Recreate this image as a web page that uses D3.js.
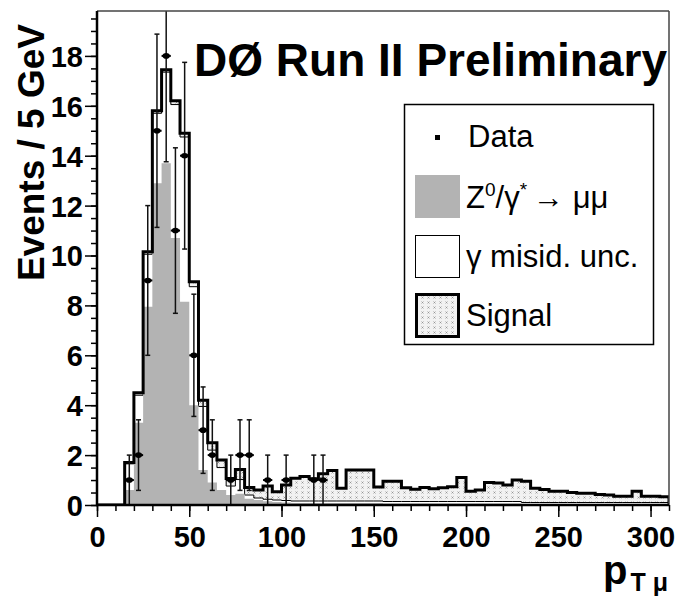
<!DOCTYPE html>
<html>
<head>
<meta charset="utf-8">
<script src="https://cdn.jsdelivr.net/npm/d3@7"></script>
<style>
  body { margin: 0; background: #fff; }
  svg { display: block; }
  text { font-family: "Liberation Sans", Arial, Helvetica, sans-serif; }
</style>
</head>
<body>
<svg id="chart" width="675" height="598"></svg>
<script>
// Muon pT spectrum, 5 GeV bins from 0 to 310 GeV
const binLow = d3.range(0, 310, 5);

// Z0/gamma* -> mu mu background (grey)
const zmumu = [0,0,0,0.6,3.3,7.95,12.9,13.7,10.7,8.15,4.0,1.4,0.9,0.6,0.4,0.45,0.25,0.2,0.15,0.12,
  0.1,0.08,0.08,0.08,0.08,0.08,0.08,0.08,0.08,0.08,0.08,0.06,0.06,0.06,0.06,0.06,0.06,0.06,0.06,0.06,
  0.06,0.06,0.06,0.06,0.06,0.06,0.04,0.04,0.04,0.04,0.04,0.04,0.04,0.04,0.04,0.04,0.04,0.04,0.04,0.04,0.04,0.04];
// photon misidentification uncertainty (white, stacked on Z)
const misid = [0,0,0,1.05,1.1,2.1,2.8,3.65,5.35,6.6,4.75,2.55,1.3,0.9,0.36,0.57,0.15,0.08,0.08,0.08,
  0.08,0.08,0.08,0.08,0.08,0.08,0.08,0.08,0.08,0.08,0.08,0.08,0.08,0.08,0.08,0.08,0.08,0.08,0.08,0.08,
  0.08,0.08,0.08,0.08,0.08,0.08,0.06,0.06,0.06,0.06,0.06,0.06,0.06,0.06,0.06,0.06,0.06,0.06,0.06,0.06,0.06,0.06];
// signal (patterned, stacked on top)
const signal = [0,0,0,0.05,0.1,0.1,0.1,0.1,0.15,0.15,0.2,0.25,0.3,0.3,0.3,0.4,0.3,0.32,0.53,0.33,
  0.62,0.91,0.98,0.89,1.09,1.22,0.51,1.24,1.24,1.24,0.56,0.81,0.81,0.55,0.49,0.56,0.51,0.55,0.59,0.96,
  0.41,0.46,0.76,0.74,0.66,0.86,0.85,0.57,0.52,0.45,0.45,0.4,0.37,0.37,0.32,0.3,0.25,0.25,0.45,0.25,0.25,0.23];

// data: bin lower edge and number of events
const dataBin = [15,20,25,30,35,40,45,50,55,60,70,75,80,90,100,115,120];
const dataVal = [1,2,9,15,18,11,14,6,3,2,1,2,2,1,1,1,1];

const xTickValues = [0,50,100,150,200,250,300];
const yTickValues = [0,2,4,6,8,10,12,14,16,18];

const svg = d3.select("#chart");
const fr = { left: 97, right: 669, top: 11, bottom: 505 };
const x = d3.scaleLinear().domain([0, 310]).range([fr.left, fr.right]);
const y = d3.scaleLinear().domain([0, 19.8]).range([fr.bottom, fr.top]);

// fill pattern for the signal
const defs = svg.append("defs");
const pat = defs.append("pattern").attr("id", "sigfill")
  .attr("patternUnits", "userSpaceOnUse").attr("width", 6).attr("height", 5);
pat.append("rect").attr("width", 6).attr("height", 5).attr("fill", "#f2f2f2");
pat.append("path").attr("d", "M1.5,1.5 L3.5,3.5 M3.5,1.5 L1.5,3.5")
  .attr("stroke", "#8a8a8a").attr("stroke-width", 0.7);
defs.append("clipPath").attr("id", "frame").append("rect")
  .attr("x", fr.left).attr("y", fr.top).attr("width", fr.right - fr.left).attr("height", fr.bottom - fr.top);

// cumulative stack levels
const lvlZ = zmumu.slice();
const lvlZM = zmumu.map((v, i) => v + misid[i]);
const lvlAll = lvlZM.map((v, i) => v + signal[i]);

function stepLine(vals) {
  let d = `M${x(0)},${y(0)}`;
  vals.forEach((v, i) => {
    d += `L${x(binLow[i])},${y(v)}L${x(binLow[i] + 5)},${y(v)}`;
  });
  return d;
}
const stepArea = vals => stepLine(vals) + `L${x(310)},${y(0)}Z`;

const plot = svg.append("g").attr("clip-path", "url(#frame)");
plot.append("path").attr("d", stepArea(lvlAll)).attr("fill", "url(#sigfill)");
plot.append("path").attr("d", stepArea(lvlZM)).attr("fill", "#fff");
plot.append("path").attr("d", stepLine(lvlZM)).attr("fill", "none")
  .attr("stroke", "#000").attr("stroke-width", 1);
plot.append("path").attr("d", stepArea(lvlZ)).attr("fill", "#b3b3b3");
plot.append("path").attr("d", stepLine(lvlAll) + `L${x(310)},${y(0)}`).attr("fill", "none")
  .attr("stroke", "#000").attr("stroke-width", 3).attr("stroke-linejoin", "miter");

// data points with sqrt(N) error bars
const pts = plot.append("g");
dataBin.forEach((b, i) => {
  const n = dataVal[i], e = Math.sqrt(n);
  const cx = x(b + 2.5);
  const g = pts.append("g").attr("stroke", "#111");
  g.append("line").attr("x1", cx).attr("x2", cx)
    .attr("y1", y(Math.max(0, n - e))).attr("y2", y(n + e)).attr("stroke-width", 1.5);
  [n - e, n + e].forEach(v => {
    if (v > 0.01) g.append("line").attr("x1", cx - 2.5).attr("x2", cx + 2.5)
      .attr("y1", y(v)).attr("y2", y(v)).attr("stroke-width", 1.5);
  });
  g.append("line").attr("x1", x(b)).attr("x2", x(b + 5))
    .attr("y1", y(n)).attr("y2", y(n)).attr("stroke", "#000").attr("stroke-width", 2);
  g.append("ellipse").attr("cx", cx).attr("cy", y(n))
    .attr("rx", 3.6).attr("ry", 2.8).attr("fill", "#000").attr("stroke", "none");
});

// frame
svg.append("line").attr("x1", fr.left).attr("x2", fr.right).attr("y1", fr.top).attr("y2", fr.top)
  .attr("stroke", "#444").attr("stroke-width", 1.5);
svg.append("line").attr("x1", fr.right).attr("x2", fr.right).attr("y1", fr.top).attr("y2", fr.bottom)
  .attr("stroke", "#444").attr("stroke-width", 1.5);

// axes
const fontTick = "bold 29px 'Liberation Sans', Arial, sans-serif";
const yMinor = svg.append("g").attr("transform", `translate(${fr.left},0)`)
  .call(d3.axisLeft(y).tickValues(d3.range(0, 19.81, 0.5)).tickSize(6).tickFormat(""));
const yMajor = svg.append("g").attr("transform", `translate(${fr.left},0)`)
  .call(d3.axisLeft(y).tickValues(yTickValues).tickSize(12).tickPadding(2));
const xMinor = svg.append("g").attr("transform", `translate(0,${fr.bottom})`)
  .call(d3.axisBottom(x).tickValues(d3.range(0, 310.1, 10)).tickSize(6).tickFormat(""));
const xMajor = svg.append("g").attr("transform", `translate(0,${fr.bottom})`)
  .call(d3.axisBottom(x).tickValues(xTickValues).tickSize(12).tickPadding(9));
[yMinor, yMajor, xMinor, xMajor].forEach(g => {
  g.select(".domain").remove();
  g.selectAll(".tick line").attr("stroke", "#000").attr("stroke-width", 1.5);
  g.selectAll("text").style("font", fontTick).attr("fill", "#000");
});
yMajor.selectAll("text").attr("dy", "0.36em");
svg.append("line").attr("x1", fr.left).attr("x2", fr.left).attr("y1", fr.top).attr("y2", fr.bottom + 1)
  .attr("stroke", "#000").attr("stroke-width", 2.5);
svg.append("line").attr("x1", fr.left - 1).attr("x2", fr.right).attr("y1", fr.bottom).attr("y2", fr.bottom)
  .attr("stroke", "#000").attr("stroke-width", 2.5);

// axis titles
svg.append("text").attr("transform", "translate(44,24) rotate(-90)")
  .attr("text-anchor", "end").style("font-weight", "bold").style("font-size", "37px")
  .text("Events / 5 GeV");
const xt = svg.append("text").attr("x", 668).attr("y", 584).attr("text-anchor", "end")
  .style("font-weight", "bold").style("font-size", "40px");
xt.append("tspan").text("p");
xt.append("tspan").attr("dx", 3).attr("dy", 7).style("font-size", "25px").text("T \u03bc");

// experiment label
svg.append("text").attr("x", 667).attr("y", 76).attr("text-anchor", "end")
  .style("font-weight", "bold").style("font-size", "46px").text("D\u00d8 Run II Preliminary");

// legend
const lg = svg.append("g");
lg.append("rect").attr("x", 404.5).attr("y", 104.5).attr("width", 249).attr("height", 240)
  .attr("fill", "#fff").attr("stroke", "#000").attr("stroke-width", 1.5);
lg.append("rect").attr("x", 435).attr("y", 135).attr("width", 5).attr("height", 5).attr("fill", "#000");
lg.append("rect").attr("x", 415).attr("y", 175).attr("width", 45).attr("height", 43).attr("fill", "#b3b3b3");
lg.append("rect").attr("x", 415.5).attr("y", 235.5).attr("width", 44).attr("height", 42)
  .attr("fill", "#fff").attr("stroke", "#000").attr("stroke-width", 1);
lg.append("rect").attr("x", 416.5).attr("y", 294.5).attr("width", 42).attr("height", 42)
  .attr("fill", "url(#sigfill)").attr("stroke", "#000").attr("stroke-width", 3);
const legFont = "31px";
lg.append("text").attr("x", 468).attr("y", 147).style("font-size", legFont).text("Data");
const zt = lg.append("text").attr("x", 466).attr("y", 208).style("font-size", legFont);
zt.append("tspan").text("Z");
zt.append("tspan").attr("dy", -12).style("font-size", "19px").text("0");
zt.append("tspan").attr("dy", 12).text("/\u03b3");
zt.append("tspan").attr("dy", -12).style("font-size", "19px").text("*");
zt.append("tspan").attr("dy", 12).attr("dx", 6).text("\u2192 \u03bc\u03bc");
lg.append("text").attr("x", 466).attr("y", 267).style("font-size", legFont).text("\u03b3 misid. unc.");
lg.append("text").attr("x", 466).attr("y", 326).style("font-size", legFont).text("Signal");
</script>
</body>
</html>
